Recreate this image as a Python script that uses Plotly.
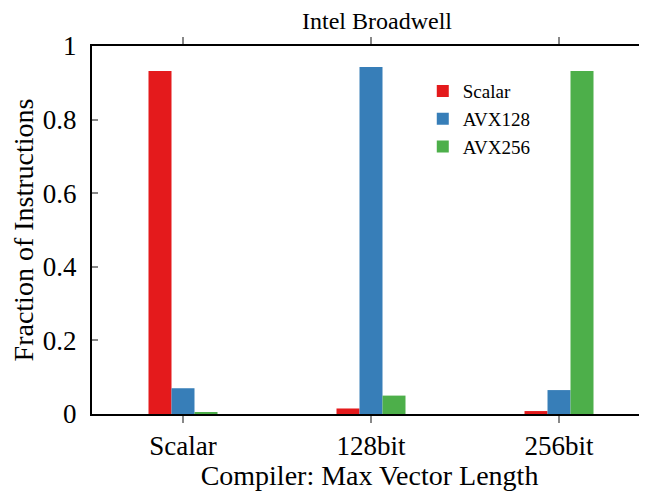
import plotly.graph_objects as go

categories = ["Scalar", "128bit", "256bit"]
series_names = ["Scalar", "AVX128", "AVX256"]
scalar_vals = [0.932, 0.015, 0.008]
avx128_vals = [0.070, 0.943, 0.065]
avx256_vals = [0.004, 0.050, 0.932]
y_tickvals = [0, 0.2, 0.4, 0.6, 0.8, 1.0]
y_ticktext = ["0", "0.2", "0.4", "0.6", "0.8", "1"]
colors = ["#e41a1c", "#377eb8", "#4daf4a"]

FONT = "Liberation Serif"
# page body has an 8px default margin; figure is sized to compensate
W, H = 639, 483

fig = go.Figure()
for name, vals, c in zip(series_names, [scalar_vals, avx128_vals, avx256_vals], colors):
    fig.add_trace(go.Bar(x=categories, y=vals, name=name,
                         marker=dict(color=c, line=dict(width=0))))

fig.update_layout(
    width=W, height=H,
    margin=dict(l=84, r=0, t=38, b=77, autoexpand=False),
    plot_bgcolor="white", paper_bgcolor="white",
    barmode="group", bargap=0.633, bargroupgap=0,
    font=dict(family=FONT, size=26, color="black"),
    title=dict(text="Intel Broadwell", xref="paper", x=0.5135, xanchor="center",
               yref="container", y=1 - 13 / H, yanchor="middle",
               font=dict(family=FONT, size=24)),
    showlegend=True,
    legend=dict(x=0.596, y=0.929, xanchor="left", yanchor="top", bgcolor="rgba(0,0,0,0)",
                font=dict(family=FONT, size=19), tracegroupgap=0, itemwidth=30),
)
fig.update_xaxes(
    range=[-0.484, 2.468], showline=True, linecolor="black", linewidth=2, mirror="ticks",
    ticks="outside", ticklen=7, tickcolor="#888888", tickwidth=1.5,
    tickfont=dict(family=FONT, size=27), automargin=False,
    title=dict(text="Compiler: Max Vector Length", font=dict(family=FONT, size=28), standoff=6),
    showgrid=False, zeroline=False,
)
fig.update_yaxes(
    range=[0, 1], tickvals=y_tickvals, ticktext=y_ticktext,
    showline=True, linecolor="black", linewidth=2,
    ticks="inside", ticklen=6, tickcolor="#888888", tickwidth=1.5,
    tickfont=dict(family=FONT, size=27), ticklabelstandoff=8, automargin=False,
    title=dict(text="Fraction of Instructions", font=dict(family=FONT, size=28), standoff=6),
    showgrid=False, zeroline=False,
)
fig.write_html("out.html")
